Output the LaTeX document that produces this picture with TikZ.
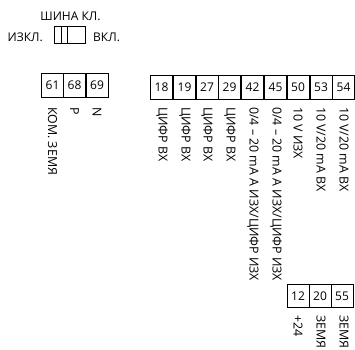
\documentclass[tikz,border=0pt]{standalone}
\usepackage{fontspec}
\setmainfont{Open Sans}
\usepackage{xcolor}
\usepackage{tikz}

\tikzset{
  cell/.style={draw,line width=0.6pt,minimum width=22.4pt,minimum height=23.5pt,inner sep=0pt,font=\fontsize{12}{14}\selectfont},
  pinlabel/.style={rotate=-90,anchor=west,inner sep=0pt,font=\fontsize{12.4}{14}\selectfont},
  swlabel/.style={inner sep=0pt,font=\fontsize{12}{14}\selectfont}
}

\begin{document}
\begin{tikzpicture}[x=1pt,y=-1pt]
  \useasboundingbox (0,0) rectangle (355,349);

  % Switch
  \node[swlabel] (swtitle) at (70.5,16.5) {ШИНА КЛ.};
  \node[swlabel,anchor=east] (swoff) at (43,37) {ИЗКЛ.};
  \node[swlabel,anchor=west] (swon) at (93,37) {ВКЛ.};
  \draw[line width=0.6pt] (54.5,26) rectangle (85.5,43);
  \draw[line width=0.6pt] (61,26) -- (61,43);
  \draw[line width=0.6pt] (67,26) -- (67,43);

  % Left terminals
  \node[cell] (t61) at (52.5,85.5) {61};
  \node[cell] (t68) at (74.5,85.5) {68};
  \node[cell] (t69) at (97,85.5) {69};
  \node[pinlabel] (l61) at (52.5,107) {КОМ. ЗЕМЯ};
  \node[pinlabel] (l68) at (74.5,107) {P};
  \node[pinlabel] (l69) at (97,107) {N};

  % Main terminals
  \node[cell] (t18) at (161.5,87.5) {18};
  \node[cell] (t19) at (184.5,87.5) {19};
  \node[cell] (t27) at (207,87.5) {27};
  \node[cell] (t29) at (229.5,87.5) {29};
  \node[cell] (t42) at (252.5,87.5) {42};
  \node[cell] (t45) at (275.5,87.5) {45};
  \node[cell] (t50) at (298,87.5) {50};
  \node[cell] (t53) at (321,87.5) {53};
  \node[cell] (t54) at (343.5,87.5) {54};
  \node[pinlabel] (l18) at (162,107) {ЦИФР ВХ};
  \node[pinlabel] (l19) at (185,107) {ЦИФР ВХ};
  \node[pinlabel] (l27) at (207,107) {ЦИФР ВХ};
  \node[pinlabel] (l29) at (230,107) {ЦИФР ВХ};
  \node[pinlabel] (l42) at (253,107) {0/4 – 20 mA A ИЗХ/ЦИФР ИЗХ};
  \node[pinlabel] (l45) at (276,107) {0/4 – 20 mA A ИЗХ/ЦИФР ИЗХ};
  \node[pinlabel] (l50) at (298,107) {10 V ИЗХ};
  \node[pinlabel] (l53) at (321,107) {10 V/20 mA ВХ};
  \node[pinlabel] (l54) at (344,107) {10 V/20 mA ВХ};

  % Bottom terminals
  \node[cell] (t12) at (298,296) {12};
  \node[cell] (t20) at (320,296) {20};
  \node[cell] (t55) at (342,296) {55};
  \node[pinlabel] (l12) at (298,315) {+24};
  \node[pinlabel] (l20) at (321,315) {ЗЕМЯ};
  \node[pinlabel] (l55) at (344,315) {ЗЕМЯ};
\end{tikzpicture}
\end{document}
